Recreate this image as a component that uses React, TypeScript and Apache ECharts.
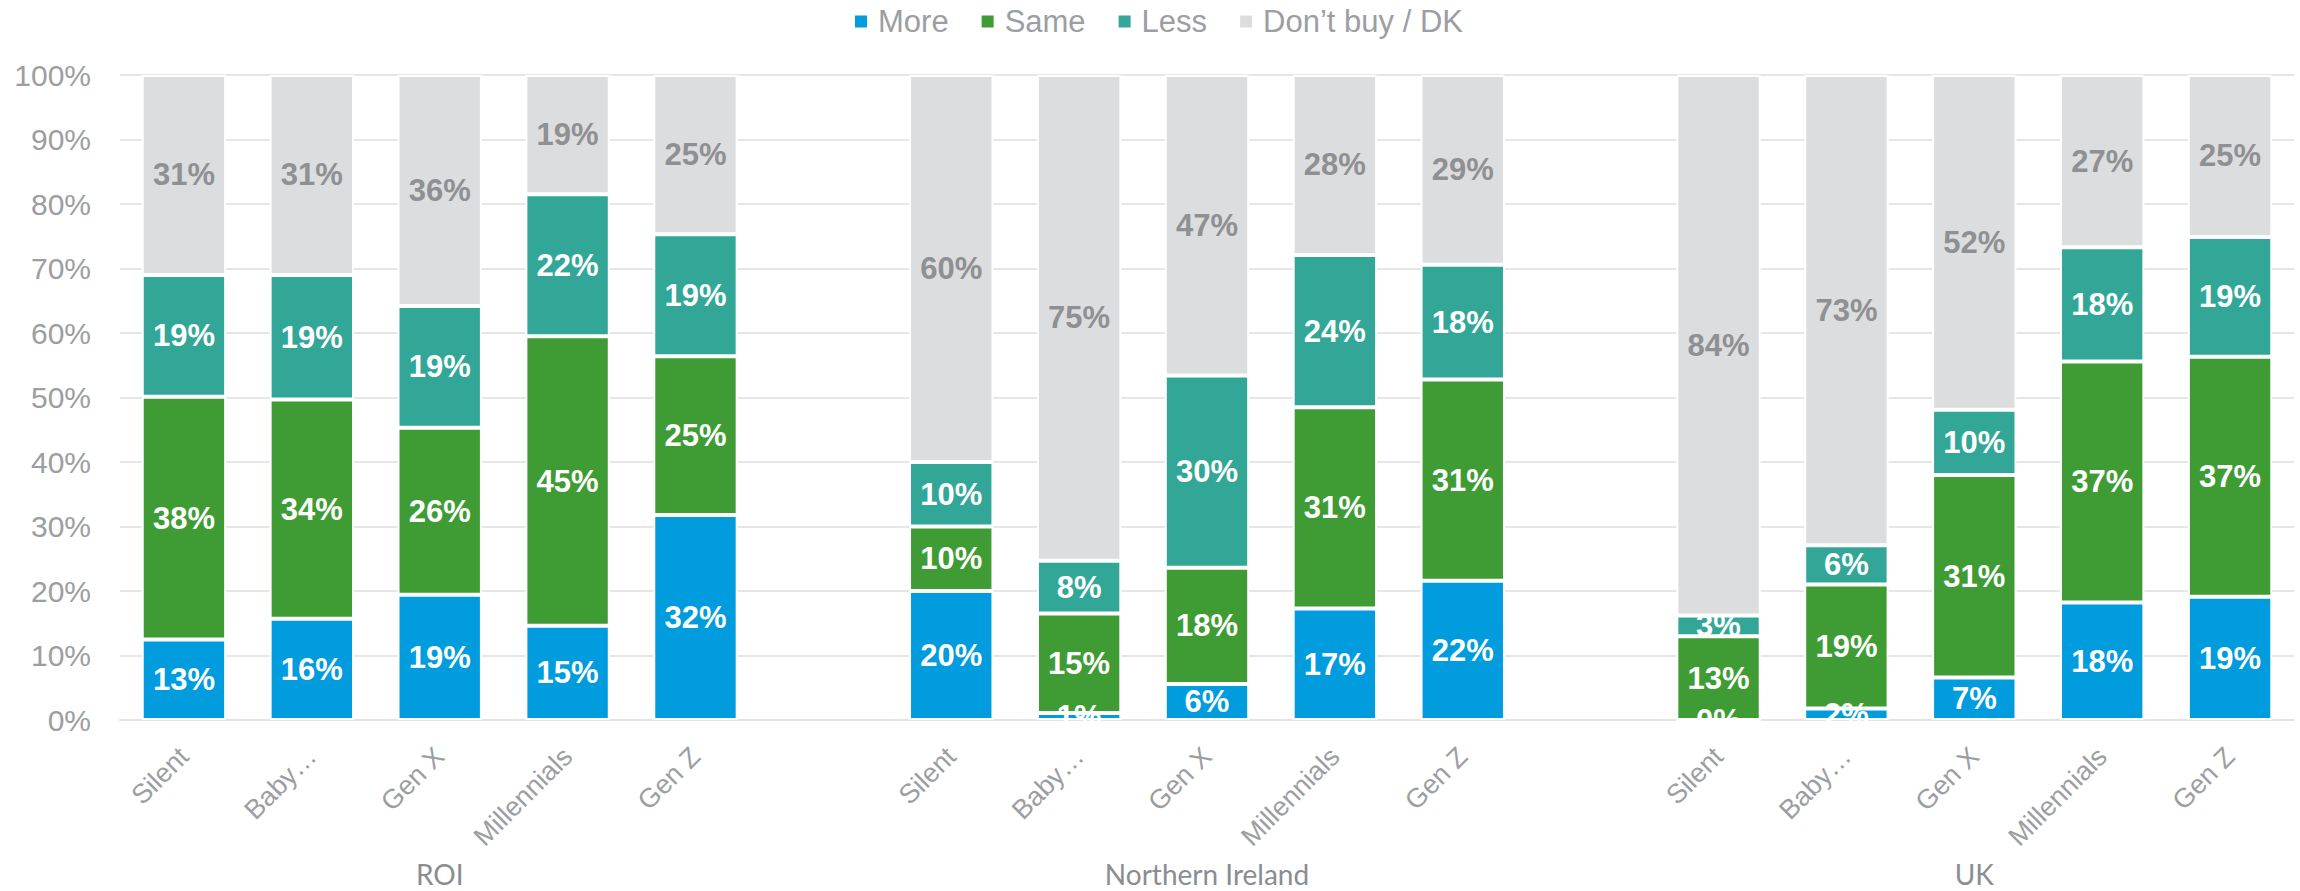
import React, { useEffect, useRef } from "react";
import * as echarts from "echarts";

const generations = ["Silent", "Baby…", "Gen X", "Millennials", "Gen Z"];
const regions = ["ROI", "Northern Ireland", "UK"];
const seriesNames = ["More", "Same", "Less", "Don’t buy / DK"];
const seriesColors = ["#009CDE", "#3F9C35", "#33A797", "#DCDDDE"];
const yTicks = [0, 10, 20, 30, 40, 50, 60, 70, 80, 90, 100];

// values per region, in generation order
const roiMore = [12.5, 15.7, 19.4, 14.6, 31.8];
const roiSame = [37.6, 34.0, 25.9, 44.9, 24.6];
const roiLess = [18.9, 19.3, 18.9, 22.0, 18.9];
const roiDK = [31.0, 31.0, 35.8, 18.5, 24.7];

const niMore = [20.0, 1.1, 5.6, 17.3, 21.6];
const niSame = [10.0, 15.4, 18.0, 31.2, 31.2];
const niLess = [10.0, 8.2, 29.8, 23.6, 17.8];
const niDK = [60.0, 75.3, 46.6, 27.9, 29.4];

const ukMore = [0, 1.8, 6.6, 18.2, 19.1];
const ukSame = [13.0, 19.2, 31.4, 37.4, 37.2];
const ukLess = [3.2, 6.1, 10.1, 17.7, 18.6];
const ukDK = [83.8, 72.9, 51.9, 26.7, 25.1];

function joinGroups<T>(a: T[], b: T[], c: T[], blank: T): T[] {
  return [...a, blank, ...b, blank, ...c];
}

export default function App() {
  const ref = useRef<HTMLDivElement>(null);

  useEffect(() => {
    if (!ref.current) return;
    const chart = echarts.init(ref.current, undefined, { renderer: "svg" });
    const font = "'Liberation Sans', Arial, sans-serif";
    const categories = joinGroups(generations, generations, generations, "");
    const groupLabels = categories.map((_, i) => {
      const g = Math.floor(i / 6);
      return i % 6 === 2 ? regions[g] : "";
    });
    const data = [
      joinGroups(roiMore, niMore, ukMore, null as any),
      joinGroups(roiSame, niSame, ukSame, null as any),
      joinGroups(roiLess, niLess, ukLess, null as any),
      joinGroups(roiDK, niDK, ukDK, null as any),
    ];
    const series = seriesNames.map((name, si) => ({
      name,
      type: "bar",
      stack: "total",
      xAxisIndex: 0,
      barWidth: "66%",
      data: data[si],
      itemStyle: { color: seriesColors[si], borderColor: "#ffffff", borderWidth: 2 },
      label: {
        show: true,
        position: "inside",
        formatter: (p: any) => Math.round(p.value) + "%",
        color: si === 3 ? "#8E9094" : "#ffffff",
        fontWeight: "bold",
        fontSize: 31,
        fontFamily: font,
      },
    }));
    chart.setOption({
      animation: false,
      backgroundColor: "#ffffff",
      textStyle: { fontFamily: font },
      legend: {
        data: seriesNames,
        top: 6,
        left: 855,
        padding: 0,
        itemGap: 33,
        itemWidth: 12,
        itemHeight: 12,
        icon: "rect",
        itemStyle: { borderWidth: 0 },
        textStyle: { fontSize: 31, color: "#9B9EA2", fontFamily: font, padding: [0, 0, 0, 6] },
      },
      grid: { left: 120, right: 6, top: 75, bottom: 171, containLabel: false },
      xAxis: [
        {
          type: "category",
          data: categories,
          axisLine: { show: true, lineStyle: { color: "#E3E3E3", width: 2 } },
          axisTick: { show: false },
          axisLabel: {
            interval: 0,
            rotate: 45,
            margin: 32,
            fontSize: 27,
            color: "#9B9EA2",
            fontFamily: font,
          },
        },
        {
          type: "category",
          data: groupLabels,
          position: "bottom",
          offset: 132,
          axisLine: { show: false },
          axisTick: { show: false },
          axisLabel: {
            interval: 0,
            fontSize: 28,
            lineHeight: 28,
            color: "#8A8D91",
            fontFamily: "Lato, 'Liberation Sans', sans-serif",
          },
        },
      ],
      yAxis: {
        type: "value",
        min: 0,
        max: 100,
        interval: 10,
        axisLine: { show: false },
        axisTick: { show: false },
        splitLine: { lineStyle: { color: "#E6E6E6", width: 2 } },
        axisLabel: {
          margin: 29,
          fontSize: 30,
          color: "#9B9EA2",
          fontFamily: font,
          formatter: (v: number) => (yTicks.includes(v) ? v + "%" : ""),
        },
      },
      series,
    });
    return () => chart.dispose();
  }, []);

  return (
    <div
      ref={ref}
      style={{ position: "fixed", left: 0, top: 0, width: 2300, height: 891 }}
    />
  );
}
